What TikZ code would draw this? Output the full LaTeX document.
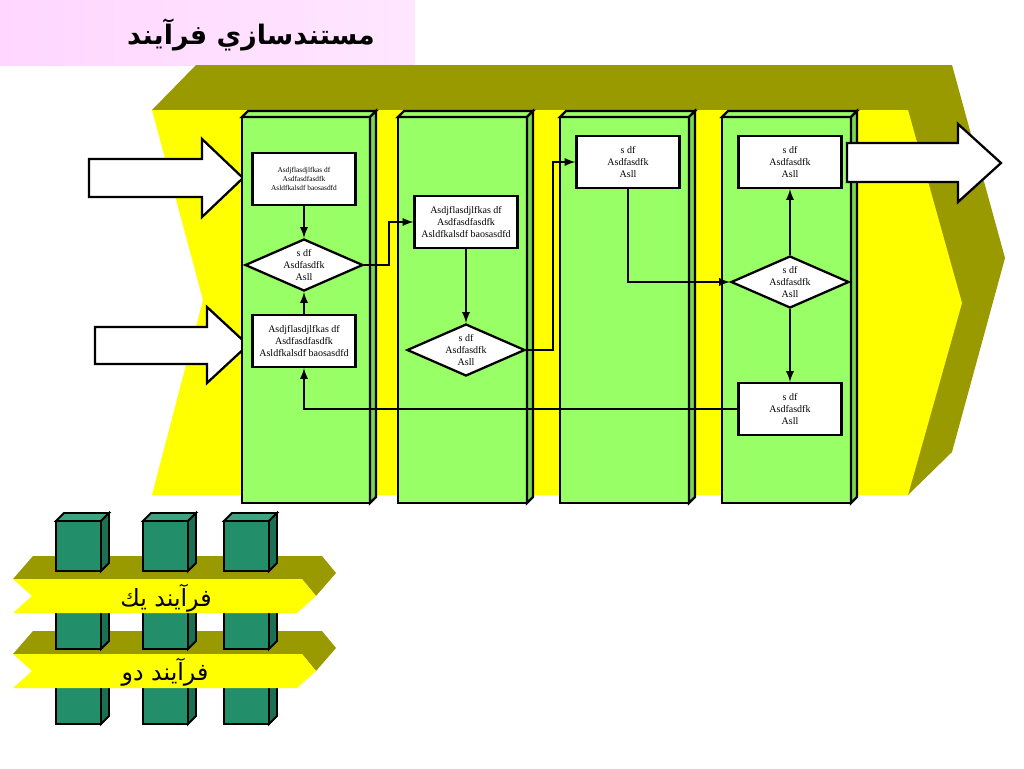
\documentclass[tikz,border=0pt]{standalone}
\usepackage{fontspec}
\setmainfont{Liberation Serif}
\newfontfamily\arabicfont[Script=Arabic]{DejaVu Sans}
\TeXXeTstate=1
\usepackage{tikz}
\usepackage{xcolor}
\usetikzlibrary{arrows, calc, positioning, shapes.geometric}

\definecolor{titlepink}{RGB}{255,214,255}
\definecolor{bandolive}{RGB}{153,153,0}
\definecolor{bandyellow}{RGB}{255,255,0}
\definecolor{lanegreen}{RGB}{153,255,102}
\definecolor{lanedark}{RGB}{120,215,80}
\definecolor{pillarfront}{RGB}{34,143,106}
\definecolor{pillartopc}{RGB}{62,163,128}
\definecolor{pillarsidec}{RGB}{25,112,82}

\begin{document}
\begin{tikzpicture}[x=0.02cm, y=-0.02cm,
    lane/.style={draw, line width=1.3pt, fill=lanegreen},
    laneside/.style={draw, line width=1.3pt, fill=lanedark},
    box/.style={draw, line width=1.3pt, fill=white, minimum width=2.06cm, minimum height=1.04cm, inner sep=0pt, align=center, font=\fontsize{5.7}{6.8}\selectfont},
    decision/.style={diamond, draw, line width=1.3pt, fill=white, aspect=2.3, minimum width=2.36cm, minimum height=1.04cm, inner sep=0pt, align=center, font=\fontsize{5.7}{6.8}\selectfont},
    link/.style={line width=1.1pt, -latex},
    bigarrow/.style={draw, line width=1.3pt, fill=white},
    pillar/.style={draw, line width=1.1pt, fill=pillarfront},
    pillartop/.style={draw, line width=1.1pt, fill=pillartopc},
    pillarside/.style={draw, line width=1.1pt, fill=pillarsidec},
    bandlabel/.style={font=\arabicfont\fontsize{13.5}{16}\selectfont}
  ]
\useasboundingbox (0,0) rectangle (1024,768);

% title band
\shade[left color=titlepink, right color=titlepink!60!white] (0,0) rectangle (415,65);
\node (title) at (251,35) {\arabicfont\bfseries\fontsize{15.3}{18}\selectfont\beginR مستندسازي فرآيند\endR};

% big process arrow
\fill[bandolive] (152,110) -- (196,65) -- (952,65) -- (1005,258) -- (952,452) -- (908,495) -- (908,110) -- cycle;
\fill[bandyellow] (152,110) -- (908,110) -- (962,303) -- (908,495) -- (152,495) -- (203,300) -- cycle;

% inputs
\draw[bigarrow] (89,159) -- (202,159) -- (202,139) -- (243,178) -- (202,217) -- (202,197) -- (89,197) -- cycle;
\draw[bigarrow] (95,327) -- (207,327) -- (207,307) -- (248,345) -- (207,383) -- (207,364) -- (95,364) -- cycle;

% lanes
\draw[lane] (242,117) rectangle (370,503);
\draw[lane] (242,117) -- (248,111) -- (376,111) -- (370,117) -- cycle;
\draw[laneside] (370,117) -- (376,111) -- (376,497) -- (370,503) -- cycle;
\draw[lane] (398,117) rectangle (527,503);
\draw[lane] (398,117) -- (404,111) -- (533,111) -- (527,117) -- cycle;
\draw[laneside] (527,117) -- (533,111) -- (533,497) -- (527,503) -- cycle;
\draw[lane] (560,117) rectangle (689,503);
\draw[lane] (560,117) -- (566,111) -- (695,111) -- (689,117) -- cycle;
\draw[laneside] (689,117) -- (695,111) -- (695,497) -- (689,503) -- cycle;
\draw[lane] (722,117) rectangle (851,503);
\draw[lane] (722,117) -- (728,111) -- (857,111) -- (851,117) -- cycle;
\draw[laneside] (851,117) -- (857,111) -- (857,497) -- (851,503) -- cycle;

% steps
\node[box, font=\fontsize{4.2}{4.9}\selectfont] (docA) at (304,179) {Asdjflasdjlfkas df\\Asdfasdfasdfk\\Asldfkalsdf baosasdfd};
\node[decision] (dec1) at (304,265) {s df\\Asdfasdfk\\Asll};
\node[box] (docB) at (304,341) {Asdjflasdjlfkas df\\Asdfasdfasdfk\\Asldfkalsdf baosasdfd};
\node[box] (docC) at (466,222) {Asdjflasdjlfkas df\\Asdfasdfasdfk\\Asldfkalsdf baosasdfd};
\node[decision] (dec2) at (466,350) {s df\\Asdfasdfk\\Asll};
\node[box] (docD) at (628,162) {s df\\Asdfasdfk\\Asll};
\node[box] (docE) at (790,162) {s df\\Asdfasdfk\\Asll};
\node[decision] (dec3) at (790,282) {s df\\Asdfasdfk\\Asll};
\node[box] (docF) at (790,409) {s df\\Asdfasdfk\\Asll};

\draw
(docA) edge[link] (dec1)
(docB) edge[link] (dec1)
(docC) edge[link] (dec2)
(dec3) edge[link] (docE)
(dec3) edge[link] (docF);
\draw[link] (dec1.east) -- ++(25,0) |- (docC.west);
\draw[link] (dec2.east) -- ++(27,0) |- (docD.west);
\draw[link] (docD.south) |- (dec3.west);
\draw[link] (docF.west) -| (docB.south);

% output
\draw[bigarrow] (847,143) -- (958,143) -- (958,124) -- (1001,163) -- (958,202) -- (958,182) -- (847,182) -- cycle;

% legend: back faces of the bands
\fill[bandolive] (13,579) -- (33,556) -- (322,556) -- (336,573) -- (316,596) -- (302,579) -- cycle;
\fill[bandolive] (13,654) -- (33,631) -- (322,631) -- (336,648) -- (316,671) -- (302,654) -- cycle;

% legend: pillars
\draw[pillar] (56,521) rectangle (101,571);
\draw[pillartop] (56,521) -- (64,513) -- (109,513) -- (101,521) -- cycle;
\draw[pillarside] (101,521) -- (109,513) -- (109,563) -- (101,571) -- cycle;
\draw[pillar] (143,521) rectangle (188,571);
\draw[pillartop] (143,521) -- (151,513) -- (196,513) -- (188,521) -- cycle;
\draw[pillarside] (188,521) -- (196,513) -- (196,563) -- (188,571) -- cycle;
\draw[pillar] (224,521) rectangle (269,571);
\draw[pillartop] (224,521) -- (232,513) -- (277,513) -- (269,521) -- cycle;
\draw[pillarside] (269,521) -- (277,513) -- (277,563) -- (269,571) -- cycle;
\draw[pillar] (56,600) rectangle (101,649);
\draw[pillarside] (101,600) -- (109,592) -- (109,641) -- (101,649) -- cycle;
\draw[pillar] (143,600) rectangle (188,649);
\draw[pillarside] (188,600) -- (196,592) -- (196,641) -- (188,649) -- cycle;
\draw[pillar] (224,600) rectangle (269,649);
\draw[pillarside] (269,600) -- (277,592) -- (277,641) -- (269,649) -- cycle;
\draw[pillar] (56,676) rectangle (101,724);
\draw[pillarside] (101,676) -- (109,668) -- (109,716) -- (101,724) -- cycle;
\draw[pillar] (143,676) rectangle (188,724);
\draw[pillarside] (188,676) -- (196,668) -- (196,716) -- (188,724) -- cycle;
\draw[pillar] (224,676) rectangle (269,724);
\draw[pillarside] (269,676) -- (277,668) -- (277,716) -- (269,724) -- cycle;

% legend: front faces of the bands
\fill[bandyellow] (13,579) -- (302,579) -- (316,596) -- (297,613) -- (13,613) -- (32,596) -- cycle;
\fill[bandyellow] (13,654) -- (302,654) -- (316,671) -- (297,688) -- (13,688) -- (32,671) -- cycle;
\node[bandlabel] (bandone) at (166,598) {\beginR فرآيند يك\endR};
\node[bandlabel] (bandtwo) at (165,672) {\beginR فرآيند دو\endR};
\end{tikzpicture}
\end{document}
